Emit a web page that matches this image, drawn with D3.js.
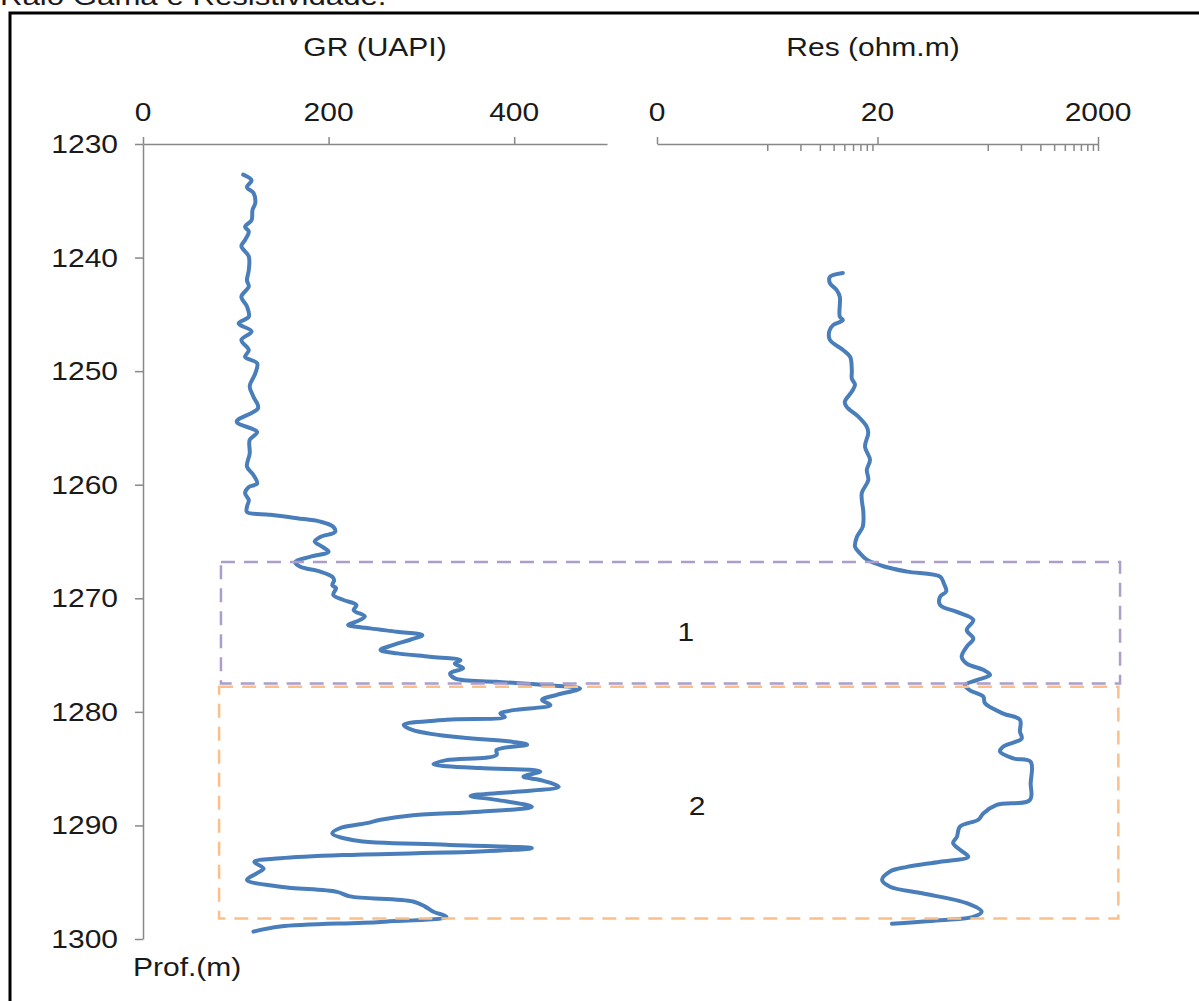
<!DOCTYPE html>
<html>
<head>
<meta charset="utf-8">
<script src="https://cdn.jsdelivr.net/npm/d3@7"></script>
<style>
  body { margin: 0; background: #fff; }
  svg { display: block; }
  text { font-family: "Liberation Sans", Arial, sans-serif; fill: #1a1a1a; }
</style>
</head>
<body>
<svg id="chart" width="1199" height="1001"></svg>
<script>
// depth (m), GR (UAPI)
var grLog = [
  [1232.7,108],[1233.2,117],[1233.8,112],[1234.3,119],[1235.2,121],[1235.8,118],[1236.7,117],
  [1237.3,110],[1237.7,114],[1238.45,110],[1239.0,106],[1239.9,114],[1241.1,114],[1242.0,112],
  [1242.55,114],[1243.45,106],[1244.3,112],[1245.2,114],[1245.8,103],[1246.5,117],[1247.25,106],
  [1248.15,114],[1248.75,110],[1249.3,123],[1250.2,121],[1251.35,115],[1252.25,119],[1253.25,124],
  [1254.45,101],[1255.35,123],[1256.05,115],[1257.25,115],[1258.4,112],[1259.15,119],[1259.9,123],
  [1260.2,114],[1260.75,110],[1261.35,114],[1261.95,112],[1262.4,112],[1262.65,137],[1262.95,166],
  [1263.25,191],[1263.7,205],[1264.15,207],[1264.6,191],[1265.0,185],[1265.45,193],[1265.9,200],
  [1266.35,180],[1266.8,164],[1267.2,169],[1267.65,191],[1268.1,204],[1268.4,206],[1268.85,204],
  [1269.1,208],[1269.7,205],[1270.15,216],[1270.6,230],[1271.05,227],[1271.6,239],[1272.05,230],
  [1272.35,221],[1272.65,245],[1272.95,274],[1273.25,301],[1273.65,288],[1274.1,270],[1274.55,256],
  [1274.85,274],[1275.15,309],[1275.45,342],[1275.75,336],[1276.15,345],[1276.6,331],[1277.05,336],
  [1277.35,381],[1277.65,435],[1277.95,471],[1278.5,446],[1278.95,430],[1279.4,439],[1279.85,399],
  [1280.15,385],[1280.45,390],[1280.7,327],[1281.15,281],[1281.6,291],[1282.2,335],[1282.65,399],
  [1282.9,414],[1283.35,381],[1283.8,381],[1284.25,327],[1284.6,313],[1284.95,363],[1285.25,428],
  [1285.7,410],[1286.0,428],[1286.6,448],[1287.05,399],[1287.4,353],[1287.75,381],[1288.35,419],
  [1288.8,363],[1289.1,291],[1289.5,256],[1289.8,241],[1290.25,212],[1290.7,204],[1291.3,227],
  [1291.7,327],[1292.0,419],[1292.3,363],[1292.6,220],[1292.9,148],[1293.2,120],[1293.8,130],
  [1294.2,123],[1294.8,112],[1295.4,148],[1295.85,209],[1296.25,223],[1296.7,291],[1297.15,304],
  [1297.6,313],[1298.05,327],[1298.5,256],[1298.9,148],[1299.35,119]
];

// depth (m), resistivity (ohm.m)
var resLog = [
  [1241.35,9.7],[1241.7,7.4],[1242.25,7.4],[1242.85,8.5],[1243.45,9.1],[1245.2,9.1],[1245.5,9.7],
  [1245.95,7.9],[1246.5,7.3],[1247.25,7.4],[1248.15,9.8],[1248.75,11.3],[1249.9,11.7],[1250.65,11.7],
  [1251.2,12.5],[1251.8,11.7],[1252.7,10.1],[1253.15,10.5],[1254.0,13.4],[1254.9,16.0],[1255.45,16.5],
  [1256.65,15.4],[1257.8,17.1],[1258.7,16.0],[1259.6,16.5],[1260.75,14.4],[1262.5,14.9],[1263.7,14.7],
  [1264.6,13.0],[1265.45,12.5],[1266.05,13.9],[1266.6,16.0],[1267.2,23],[1267.65,37],[1268.1,74],
  [1268.7,80],[1269.4,84],[1269.85,74],[1270.6,74],[1271.2,105],[1271.9,148],[1272.8,129],
  [1273.55,148],[1274.25,129],[1275.15,116],[1275.75,129],[1276.3,182],[1276.75,210],[1277.2,159],
  [1277.65,124],[1278.1,138],[1278.65,182],[1279.25,189],[1280.15,277],[1280.7,392],[1281.75,392],
  [1282.35,406],[1283.05,277],[1283.5,258],[1284.1,341],[1284.4,490],[1286.3,490],[1287.75,483],
  [1288.2,241],[1288.95,182],[1289.5,164],[1290.1,112],[1291.0,105],[1291.55,97],[1292.15,112],
  [1292.75,133],[1293.2,74],[1293.65,37],[1294.05,26],[1294.8,22],[1295.4,26],[1296.0,52],
  [1296.85,129],[1297.6,176],[1298.05,148],[1298.35,74],[1298.65,27]
];

var depthTicks = [1230, 1240, 1250, 1260, 1270, 1280, 1290, 1300];
var grTicks = [0, 200, 400];
var resTicks = [0.2, 20, 2000];
var resTickLabels = ['0', '20', '2000'];
var resMinorTicks = [2, 4, 6, 8, 10, 12, 14, 16, 18, 200, 400, 600, 800, 1000, 1200, 1400, 1600, 1800, 2000];

// zones: name, top depth, bottom depth, label depth
var zoneNames = ['1', '2'];
var zoneTop = [1266.8, 1277.8];
var zoneBottom = [1277.5, 1298.2];
var zoneLabelDepth = [1273.0, 1288.3];

var AXIS_COLOR = '#888888',
	CURVE_COLOR = '#4a7ebb',
	ZONE_COLORS = ['#ab9fca', '#fbbf8a'];
var STRETCH = 1.2; // the source picture is wider than tall

var svg = d3.select('#chart');

var y = d3.scaleLinear().domain([1230, 1300]).range([144, 939]);
var xGR = d3.scaleLinear().domain([0, 500]).range([143, 607]);
var xRes = d3.scaleLog().domain([0.2, 2000]).range([657, 1098]);

function label(g, txt, x, yy, anchor, size) {
	return g.append('text')
		.attr('transform', 'translate(' + x + ',' + yy + ') scale(' + STRETCH + ',1)')
		.attr('text-anchor', anchor)
		.style('font-size', size + 'px')
		.text(txt);
}

// frame and title (title is cut by the top edge, as in the source)
svg.append('path')
	.attr('d', 'M10,1001V13H1199')
	.attr('fill', 'none')
	.attr('stroke', '#000')
	.attr('stroke-width', 3);
label(svg, 'Raio Gama e Resistividade.', 0, 5, 'start', 26);

// depth axis
var gy = svg.append('g')
	.attr('transform', 'translate(' + xGR(0) + ',0)')
	.call(d3.axisLeft(y).tickValues(depthTicks).tickSizeInner(8).tickSizeOuter(0).tickFormat(''));
depthTicks.forEach(function(d) {
	label(svg, d, 118, y(d) + 9, 'end', 25);
});
label(svg, 'Prof.(m)', 133, 976, 'start', 25);

// GR axis
var gx = svg.append('g')
	.attr('transform', 'translate(0,' + y(1230) + ')')
	.call(d3.axisTop(xGR).tickValues(grTicks).tickSizeInner(7).tickSizeOuter(0).tickFormat(''));
grTicks.forEach(function(d) {
	label(svg, d, xGR(d), 121, 'middle', 25);
});
label(svg, 'GR (UAPI)', (xGR.range()[0] + xGR.range()[1]) / 2, 56, 'middle', 25);

// Res axis
var gr = svg.append('g')
	.attr('transform', 'translate(0,' + y(1230) + ')')
	.call(d3.axisTop(xRes).tickValues(resTicks).tickSizeInner(7).tickSizeOuter(0).tickFormat(''));
var grMinor = svg.append('g')
	.attr('transform', 'translate(0,' + y(1230) + ')')
	.call(d3.axisBottom(xRes).tickValues(resMinorTicks).tickSizeInner(7).tickSizeOuter(0).tickFormat(''));
grMinor.select('.domain').remove();
resTicks.forEach(function(d, i) {
	label(svg, resTickLabels[i], xRes(d), 121, 'middle', 25);
});
label(svg, 'Res (ohm.m)', 873, 56, 'middle', 25);

[gy, gx, gr, grMinor].forEach(function(g) {
	g.attr('color', AXIS_COLOR);
	g.selectAll('path, line').attr('stroke-width', 1.5);
});

// curves
var grLine = d3.line()
	.x(function(d) { return xGR(d[1]); })
	.y(function(d) { return y(d[0]); })
	.curve(d3.curveCatmullRom.alpha(0.5));
var resLine = d3.line()
	.x(function(d) { return xRes(d[1]); })
	.y(function(d) { return y(d[0]); })
	.curve(d3.curveCatmullRom.alpha(0.5));

svg.append('path')
	.datum(grLog)
	.attr('d', grLine)
	.attr('fill', 'none')
	.attr('stroke', CURVE_COLOR)
	.attr('stroke-width', 4)
	.attr('stroke-linejoin', 'round')
	.attr('stroke-linecap', 'round');
svg.append('path')
	.datum(resLog)
	.attr('d', resLine)
	.attr('fill', 'none')
	.attr('stroke', CURVE_COLOR)
	.attr('stroke-width', 4)
	.attr('stroke-linejoin', 'round')
	.attr('stroke-linecap', 'round');

// zone boxes
var zoneLeft = [84, 82];     // GR units
var zoneRight = [3170, 3060]; // ohm.m
var zoneLabelX = [585, 597];  // GR units
zoneNames.forEach(function(name, i) {
	var x0 = xGR(zoneLeft[i]), x1 = xRes(zoneRight[i]);
	svg.append('rect')
		.attr('x', x0)
		.attr('y', y(zoneTop[i]))
		.attr('width', x1 - x0)
		.attr('height', y(zoneBottom[i]) - y(zoneTop[i]))
		.attr('fill', 'none')
		.attr('stroke', ZONE_COLORS[i])
		.attr('stroke-width', 2.5)
		.attr('stroke-dasharray', '14,9');
	label(svg, name, xGR(zoneLabelX[i]), y(zoneLabelDepth[i]) + 9, 'middle', 25);
});
</script>
</body>
</html>
